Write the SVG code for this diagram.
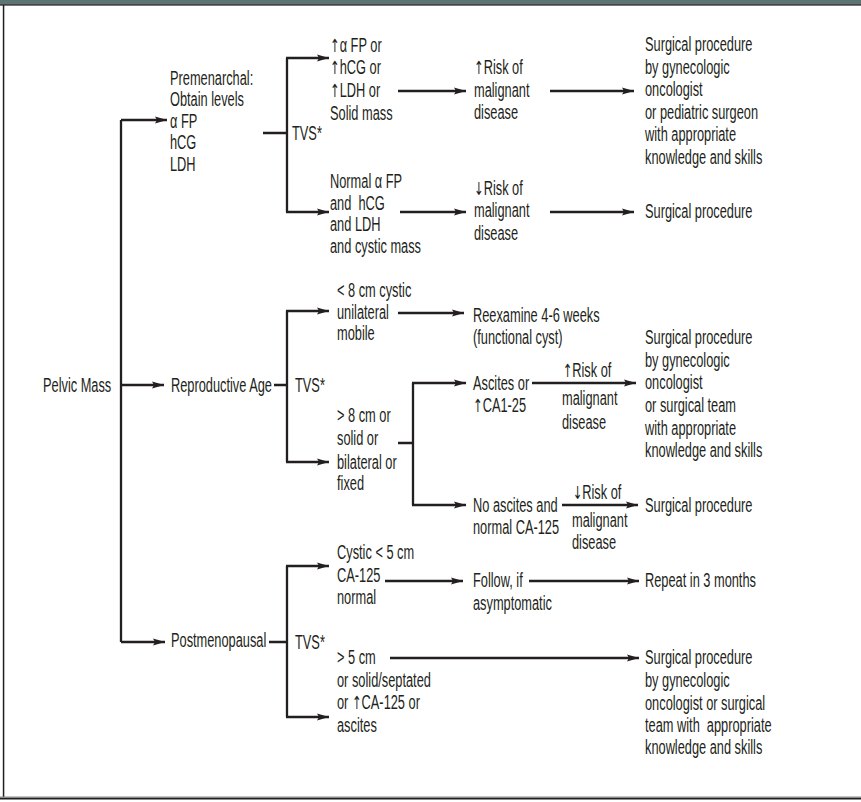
<svg xmlns="http://www.w3.org/2000/svg" width="861" height="802" viewBox="0 0 861 802">
<defs>
<style>
.t{font-family:"Liberation Sans",Arial,sans-serif;font-size:20px;fill:#231f20}
.p{white-space:pre}
.ar{font-family:"DejaVu Sans",sans-serif;font-size:18px}
.c{stroke:#231f20;stroke-width:2.3;fill:none}
.a{marker-end:url(#ah)}
</style>
<marker id="ah" markerUnits="userSpaceOnUse" markerWidth="13" markerHeight="8" refX="12" refY="3.6" orient="auto">
<path d="M0,0 L12,3.6 L0,7.2 L2,3.6 z" fill="#231f20"/>
</marker>
</defs>
<rect width="861" height="802" fill="#ffffff"/>
<g id="frame">
<rect x="0" y="0" width="861" height="4.2" fill="#5e7470"/>
<rect x="0" y="4.2" width="861" height="1.4" fill="#1e1e1e"/>
<rect x="2.8" y="5" width="1.5" height="794" fill="#1e1e1e"/>
<rect x="0" y="796.5" width="861" height="1.5" fill="#8a8a8a"/>
<rect x="0" y="798" width="861" height="1.5" fill="#1e1e1e"/>
</g>
<g id="connectors">
<path class="c" d="M121,120 V642"/>
<path class="c a" d="M121,120 H167"/>
<path class="c a" d="M121,385 H164"/>
<path class="c a" d="M121,642 H165"/>
<path class="c" d="M263,133 H287 M287,58 V212"/>
<path class="c a" d="M286,58 H329"/>
<path class="c a" d="M286,212 H329"/>
<path class="c a" d="M398,91 H466"/>
<path class="c a" d="M550,91 H634"/>
<path class="c a" d="M400,212 H466"/>
<path class="c a" d="M550,212 H634"/>
<path class="c" d="M274,385 H287 M287,311 V462"/>
<path class="c a" d="M286,311 H329"/>
<path class="c a" d="M286,462 H329"/>
<path class="c a" d="M398,313 H464"/>
<path class="c" d="M398,443 H413 M413,383 V505"/>
<path class="c a" d="M412,383 H466"/>
<path class="c a" d="M412,505 H466"/>
<path class="c a" d="M532,383 H636"/>
<path class="c a" d="M562,505 H638"/>
<path class="c" d="M269,642 H287 M287,566 V717"/>
<path class="c a" d="M286,566 H329"/>
<path class="c a" d="M286,717 H329"/>
<path class="c a" d="M385,581 H463"/>
<path class="c a" d="M529,581 H639"/>
<path class="c a" d="M390,658 H639"/>
</g>
<g id="pelvic-mass" transform="translate(43,0) scale(0.64,1)"><text class="t" x="0" y="392">Pelvic Mass</text></g>
<g id="premenarchal" transform="translate(170,0) scale(0.64,1)">
<text class="t" x="0" y="85">Premenarchal:</text>
<text class="t" x="0" y="106.5">Obtain levels</text>
<text class="t" x="0" y="128">α FP</text>
<text class="t" x="0" y="149.5">hCG</text>
<text class="t" x="0" y="171">LDH</text>
</g>
<g id="tvs-1" transform="translate(292,0) scale(0.64,1)"><text class="t" x="0" y="140">TVS*</text></g>
<g id="high-markers" transform="translate(330,0) scale(0.64,1)">
<text class="t" x="0" y="52"><tspan class="ar">↑</tspan>α FP or</text>
<text class="t" x="0" y="74.5"><tspan class="ar">↑</tspan>hCG or</text>
<text class="t" x="0" y="97.2"><tspan class="ar">↑</tspan>LDH or</text>
<text class="t" x="0" y="120">Solid mass</text>
</g>
<g id="risk-up-1" transform="translate(474,0) scale(0.64,1)">
<text class="t" x="0" y="74"><tspan class="ar">↑</tspan>Risk of</text>
<text class="t" x="0" y="97">malignant</text>
<text class="t" x="0" y="119">disease</text>
</g>
<g id="surgical-1" transform="translate(645,0) scale(0.64,1)">
<text class="t" x="0" y="51">Surgical procedure</text>
<text class="t" x="0" y="73.6">by gynecologic</text>
<text class="t" x="0" y="96.2">oncologist</text>
<text class="t" x="0" y="118.8">or pediatric surgeon</text>
<text class="t" x="0" y="141.4">with appropriate</text>
<text class="t" x="0" y="164">knowledge and skills</text>
</g>
<g id="normal-markers" transform="translate(330,0) scale(0.64,1)">
<text class="t" x="0" y="188">Normal α FP</text>
<text class="t p" x="0" y="209.7">and  hCG</text>
<text class="t" x="0" y="231.4">and LDH</text>
<text class="t" x="0" y="253">and cystic mass</text>
</g>
<g id="risk-down-1" transform="translate(474,0) scale(0.64,1)">
<text class="t" x="0" y="195"><tspan class="ar">↓</tspan>Risk of</text>
<text class="t" x="0" y="217.5">malignant</text>
<text class="t" x="0" y="240">disease</text>
</g>
<g id="surgical-2" transform="translate(645,0) scale(0.64,1)"><text class="t" x="0" y="218">Surgical procedure</text></g>
<g id="reproductive-age" transform="translate(171,0) scale(0.64,1)"><text class="t" x="0" y="392">Reproductive Age</text></g>
<g id="tvs-2" transform="translate(295,0) scale(0.64,1)"><text class="t" x="0" y="392">TVS*</text></g>
<g id="small-cystic" transform="translate(337,0) scale(0.64,1)">
<text class="t" x="0" y="297">&lt; 8 cm cystic</text>
<text class="t" x="0" y="318.7">unilateral</text>
<text class="t" x="0" y="340">mobile</text>
</g>
<g id="reexamine" transform="translate(473,0) scale(0.64,1)">
<text class="t" x="0" y="322">Reexamine 4-6 weeks</text>
<text class="t" x="0" y="344">(functional cyst)</text>
</g>
<g id="large-mass" transform="translate(337,0) scale(0.64,1)">
<text class="t" x="0" y="422">&gt; 8 cm or</text>
<text class="t" x="0" y="445">solid or</text>
<text class="t" x="0" y="468.7">bilateral or</text>
<text class="t" x="0" y="490">fixed</text>
</g>
<g id="ascites" transform="translate(473,0) scale(0.64,1)">
<text class="t" x="0" y="389.7">Ascites or</text>
<text class="t" x="0" y="412"><tspan class="ar">↑</tspan>CA1-25</text>
</g>
<g id="risk-up-2" transform="translate(562,0) scale(0.64,1)">
<text class="t" x="1" y="377"><tspan class="ar">↑</tspan>Risk of</text>
<text class="t" x="0" y="405">malignant</text>
<text class="t" x="0" y="428.7">disease</text>
</g>
<g id="surgical-3" transform="translate(645,0) scale(0.64,1)">
<text class="t" x="0" y="344.3">Surgical procedure</text>
<text class="t" x="0" y="366.9">by gynecologic</text>
<text class="t" x="0" y="389.5">oncologist</text>
<text class="t" x="0" y="412.1">or surgical team</text>
<text class="t" x="0" y="434.7">with appropriate</text>
<text class="t" x="0" y="457.3">knowledge and skills</text>
</g>
<g id="no-ascites" transform="translate(473,0) scale(0.64,1)">
<text class="t" x="0" y="512">No ascites and</text>
<text class="t" x="0" y="533.7">normal CA-125</text>
</g>
<g id="risk-down-2" transform="translate(572,0) scale(0.64,1)">
<text class="t" x="1" y="498.7"><tspan class="ar">↓</tspan>Risk of</text>
<text class="t" x="0" y="527">malignant</text>
<text class="t" x="0" y="548.7">disease</text>
</g>
<g id="surgical-4" transform="translate(645,0) scale(0.64,1)"><text class="t" x="0" y="512">Surgical procedure</text></g>
<g id="postmenopausal" transform="translate(171,0) scale(0.64,1)"><text class="t" x="0" y="647">Postmenopausal</text></g>
<g id="tvs-3" transform="translate(295,0) scale(0.64,1)"><text class="t" x="0" y="648.7">TVS*</text></g>
<g id="cystic-small" transform="translate(337,0) scale(0.64,1)">
<text class="t" x="0" y="558.7">Cystic &lt; 5 cm</text>
<text class="t" x="0" y="582">CA-125</text>
<text class="t" x="0" y="603.7">normal</text>
</g>
<g id="follow" transform="translate(473,0) scale(0.64,1)">
<text class="t" x="0" y="587">Follow, if</text>
<text class="t" x="0" y="609.7">asymptomatic</text>
</g>
<g id="repeat" transform="translate(645,0) scale(0.64,1)"><text class="t" x="0" y="587">Repeat in 3 months</text></g>
<g id="large-post" transform="translate(337,0) scale(0.64,1)">
<text class="t" x="0" y="663.7">&gt; 5 cm</text>
<text class="t" x="0" y="687">or solid/septated</text>
<text class="t" x="0" y="708.7">or <tspan class="ar">↑</tspan>CA-125 or</text>
<text class="t" x="0" y="732">ascites</text>
</g>
<g id="surgical-5" transform="translate(645,0) scale(0.64,1)">
<text class="t" x="0" y="663.7">Surgical procedure</text>
<text class="t" x="0" y="687">by gynecologic</text>
<text class="t" x="0" y="709.7">oncologist or surgical</text>
<text class="t p" x="0" y="732">team with  appropriate</text>
<text class="t" x="0" y="753.7">knowledge and skills</text>
</g>
</svg>
